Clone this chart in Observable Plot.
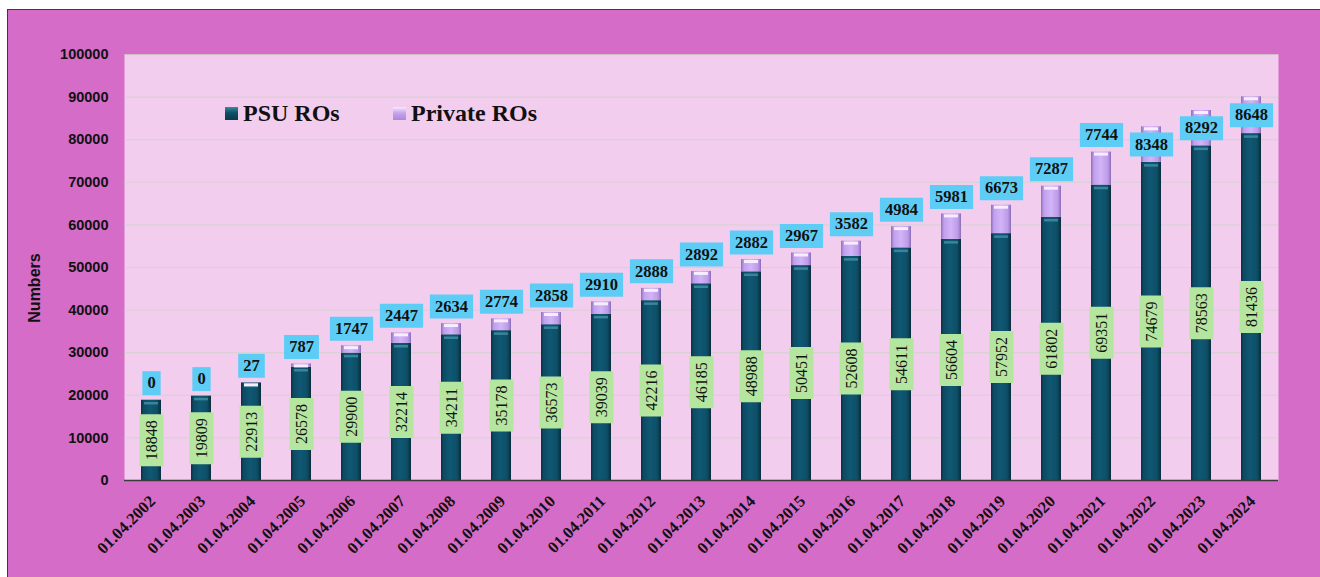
<!DOCTYPE html>
<html><head><meta charset="utf-8">
<script src="https://cdn.jsdelivr.net/npm/d3@7"></script>
<script src="https://cdn.jsdelivr.net/npm/@observablehq/plot@0.6"></script>
<style>
body{margin:0;background:#fff;}
#wrap{position:relative;width:1320px;height:577px;overflow:hidden;}
#frame{position:absolute;left:7px;top:9px;width:1330px;height:590px;background:#d56cc8;border-left:1.5px solid #6a1a60;border-top:1.5px solid #6a1a60;box-sizing:border-box;}
#chart{position:absolute;left:0;top:0;}
.lg{position:absolute;top:100px;font-family:"Liberation Serif",serif;font-weight:bold;font-size:24px;color:#111;white-space:nowrap;}
.sw{display:inline-block;width:13px;height:13px;margin-right:5px;vertical-align:1px;}
#ylab{position:absolute;left:35px;top:288px;transform:translate(-50%,-50%) rotate(-90deg);font-family:"Liberation Sans",Arial,sans-serif;font-weight:bold;font-size:16px;color:#111;}
</style></head>
<body>
<div id="wrap">
  <div id="frame"></div>
  <div id="chart"></div>
  <div id="ylab">Numbers</div>
  <div class="lg" style="left:225px"><span class="sw" style="background:linear-gradient(#3a8aa0,#0e4f66 45%,#0a3a4c)"></span>PSU ROs</div>
  <div class="lg" style="left:393px"><span class="sw" style="background:linear-gradient(#f4eaff,#c7a5ef 45%,#a98ad6)"></span>Private ROs</div>
</div>
<script>
const years = ["01.04.2002","01.04.2003","01.04.2004","01.04.2005","01.04.2006","01.04.2007","01.04.2008","01.04.2009","01.04.2010","01.04.2011","01.04.2012","01.04.2013","01.04.2014","01.04.2015","01.04.2016","01.04.2017","01.04.2018","01.04.2019","01.04.2020","01.04.2021","01.04.2022","01.04.2023","01.04.2024"];
const psuROs = [18848,19809,22913,26578,29900,32214,34211,35178,36573,39039,42216,46185,48988,50451,52608,54611,56604,57952,61802,69351,74679,78563,81436];
const privateROs = [0,0,27,787,1747,2447,2634,2774,2858,2910,2888,2892,2882,2967,3582,4984,5981,6673,7287,7744,8348,8292,8648];
const yTicks = [0,10000,20000,30000,40000,50000,60000,70000,80000,90000,100000];

const rows = years.map((year, i) => ({year, i, psu: psuROs[i], priv: privateROs[i], total: psuROs[i] + privateROs[i], nd: String(privateROs[i]).length}));

const defs = () => {
  const g = d3.create("svg:defs");
  const mk = (id, stops) => {
    const lg = g.append("linearGradient").attr("id", id).attr("x1", "0").attr("x2", "1").attr("y1", "0").attr("y2", "0");
    stops.forEach(([o, c]) => lg.append("stop").attr("offset", o).attr("stop-color", c));
  };
  mk("gPsu", [[0, "#0a2f40"], [0.12, "#0d4a62"], [0.45, "#0f5873"], [0.8, "#0e4f67"], [1, "#092c3b"]]);
  mk("gPriv", [[0, "#8d6fbd"], [0.15, "#c2a0ec"], [0.5, "#d2b4f7"], [0.85, "#bd9ae8"], [1, "#8a6cb6"]]);
  return g.node();
};

// rectangular label-box symbols (pixel sizes are styling)
const boxSymbol = (w, h) => ({draw(ctx) { ctx.rect(-w / 2, -h / 2, w, h); }});
const psuBox = boxSymbol(24, 52);

const serif = "Liberation Serif, Times New Roman, serif";
const privAbove = rows.filter(d => d.i < 20);
const privInside = rows.filter(d => d.i >= 20);
const privY = d => d.psu + d.priv / 2;

const privBoxes = [];
for (const n of [1, 2, 3, 4]) {
  const sym = boxSymbol(10 + 8.3 * n, 24);
  privBoxes.push(Plot.dot(privAbove.filter(d => d.nd === n), {x: "year", y: "total", dy: -17, symbol: sym, fill: "#5ecdf5", stroke: "none"}));
  privBoxes.push(Plot.dot(privInside.filter(d => d.nd === n), {x: "year", y: privY, symbol: sym, fill: "#5ecdf5", stroke: "none"}));
}

const chart = Plot.plot({
  width: 1320, height: 577,
  marginLeft: 124, marginRight: 42, marginTop: 54, marginBottom: 97,
  style: {background: "transparent", overflow: "visible", color: "#111"},
  x: {domain: years, paddingInner: 0.6, paddingOuter: 0.3, label: null},
  y: {domain: [0, 100000], label: null},
  marks: [
    defs,
    Plot.frame({fill: "#f2cdee", stroke: "none"}),
    Plot.gridY(yTicks, {stroke: "#c6d3bf", strokeOpacity: 0.6}),
    Plot.barY(rows, {x: "year", y1: 0, y2: "psu", fill: "url(#gPsu)"}),
    Plot.barY(rows, {x: "year", y1: "psu", y2: "total", fill: "url(#gPriv)"}),
    Plot.tickY(rows, {x: "year", y: "psu", stroke: "#3f8ea4", strokeWidth: 2.5, strokeOpacity: 0.85, dy: 3, insetLeft: 3, insetRight: 3}),
    Plot.tickY(rows.filter(d => d.priv > 0), {x: "year", y: "total", stroke: "#f6eeff", strokeWidth: 3, dy: 2, insetLeft: 3, insetRight: 3}),
    Plot.ruleY([0], {stroke: "#3b3b3b", strokeWidth: 1.5}),
    Plot.axisY(yTicks, {tickSize: 0, tickPadding: 16, fontSize: 14.5, fontWeight: "bold", fontFamily: "Liberation Sans, Arial, sans-serif", tickFormat: d => String(d), label: null}),
    Plot.axisX({tickSize: 0, tickPadding: 18, tickRotate: -45, fontSize: 16.5, fontWeight: "bold", fontFamily: serif, label: null, dx: 1}),
    Plot.dot(rows, {x: "year", y: d => d.psu / 2, symbol: psuBox, fill: "#b4e6a0", stroke: "none"}),
    Plot.text(rows, {x: "year", y: d => d.psu / 2, text: d => String(d.psu), rotate: -90, fontSize: 16, fontFamily: serif, fill: "#111"}),
    ...privBoxes,
    Plot.text(privAbove, {x: "year", y: "total", dy: -17, text: d => String(d.priv), fontSize: 16.5, fontWeight: "bold", fontFamily: serif, fill: "#111"}),
    Plot.text(privInside, {x: "year", y: privY, text: d => String(d.priv), fontSize: 16.5, fontWeight: "bold", fontFamily: serif, fill: "#111"})
  ]
});
document.getElementById("chart").appendChild(chart);
</script>
</body></html>
